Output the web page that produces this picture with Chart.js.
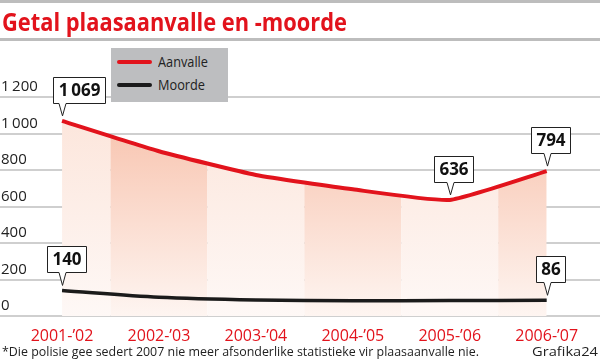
<!DOCTYPE html>
<html>
<head>
<meta charset="utf-8">
<script src="https://cdn.jsdelivr.net/npm/chart.js@4.4.1/dist/chart.umd.min.js"></script>
<style>
  body { margin: 0; background: #fff; }
  #wrap { position: relative; width: 600px; height: 360px; overflow: hidden; font-family: 'Open Sans', sans-serif; }
  #wrap canvas { position: absolute; left: 0; top: 0; }
  .rule { position: absolute; left: 0; width: 600px; height: 3px; background: #bdbdbd; }
  .fit { position: absolute; white-space: nowrap; transform-origin: 0 50%; }
  #title { left: 2px; top: 4px; font-weight: 700; font-size: 25px; color: #e2131c; }
  #legend { position: absolute; left: 111px; top: 48px; width: 117px; height: 54px; background: #bdbec0; }
  #legend .sw { position: absolute; left: 6px; width: 35px; height: 4px; border-radius: 2px; }
  #legend .fit { left: 47px; font-size: 15px; color: #222; }
  #note { left: 2px; top: 342px; font-size: 13px; color: #222; }
  #credit { left: 532px; top: 342px; font-size: 13px; color: #222; }
</style>
</head>
<body>
<div id="wrap">
  <canvas id="chart" width="600" height="360"></canvas>
  <div class="rule" style="top:0"></div>
  <div id="title" class="fit" data-w="345">Getal plaasaanvalle en -moorde</div>
  <div class="rule" style="top:38px"></div>
  <div id="legend">
    <div class="sw" style="top:12px;background:#e2131c"></div>
    <div class="fit" data-w="50" style="top:3px">Aanvalle</div>
    <div class="sw" style="top:35px;background:#1b1b1b"></div>
    <div class="fit" data-w="47" style="top:26px">Moorde</div>
  </div>
  <div id="note" class="fit" data-w="477">*Die polisie gee sedert 2007 nie meer afsonderlike statistieke vir plaasaanvalle nie.</div>
  <div id="credit" class="fit" data-w="66">Grafika24</div>
</div>
<script>
// data
const categories = ['2001-’02', '2002-’03', '2003-’04', '2004-’05', '2005-’06', '2006-’07'];
const aanvalle = [1069, 903, 773, 694, 636, 794];
const moorde = [140, 103, 88, 83, 85, 86];
const yTicks = [0, 200, 400, 600, 800, 1000, 1200];
const aanvalleLabels = [0, 4, 5]; // which points get a callout
const moordeLabels = [0, 5];

// squeeze html text to the width it has in the original
document.querySelectorAll('.fit').forEach(el => {
    const w = el.getBoundingClientRect().width;
    el.style.transform = 'scaleX(' + (el.dataset.w / w) + ')';
});

const fmt = v => v >= 1000 ? Math.floor(v / 1000) + '\u2009' + String(v % 1000).padStart(3, '0') : String(v);

// shaded bands under the red line
const bands = {
    id: 'bands',
    beforeDatasetsDraw(chart) {
        const {ctx, chartArea, scales: {x}} = chart;
        const meta = chart.getDatasetMeta(0);
        const line = meta.dataset;
        const pts = meta.data;
        const first = pts[0].x, last = pts[pts.length - 1].x;
        line.updateControlPoints(chartArea, 'x');
        ctx.save();
        ctx.beginPath();
        line.path(ctx);
        ctx.lineTo(last, chartArea.bottom);
        ctx.lineTo(first, chartArea.bottom);
        ctx.closePath();
        ctx.clip();
        categories.forEach((c, i) => {
            const l = Math.max(x.getPixelForValue(i - 0.5), first);
            const r = Math.min(x.getPixelForValue(i + 0.5), last);
            const g = ctx.createLinearGradient(0, chartArea.top, 0, chartArea.bottom);
            if (i % 2) {
                g.addColorStop(0, '#f7bea7');
                g.addColorStop(1, '#fef5f1');
            } else {
                g.addColorStop(0, '#fce4d9');
                g.addColorStop(1, '#fef8f6');
            }
            ctx.fillStyle = g;
            ctx.fillRect(l, chartArea.top - 40, r - l, chartArea.bottom - chartArea.top + 40);
        });
        ctx.restore();
    }
};

// white value boxes with a pointer
const callouts = {
    id: 'callouts',
    afterDatasetsDraw(chart) {
        const ctx = chart.ctx;
        ctx.save();
        ctx.font = 'bold 17px "Open Sans"';
        ctx.textAlign = 'center';
        ctx.textBaseline = 'middle';
        [[0, aanvalleLabels], [1, moordeLabels]].forEach(([ds, idx]) => {
            const meta = chart.getDatasetMeta(ds);
            idx.forEach(i => {
                const p = meta.data[i];
                const text = fmt(chart.data.datasets[ds].data[i].y);
                const w = Math.round(ctx.measureText(text).width + 10);
                const h = 26;
                const shift = (ds === 0 && i === 0) ? 17 : 4;
                const bx = Math.round(p.x - w / 2 + shift) + 0.5;
                const by = Math.round(p.y - 18 - h) + 0.5;
                const px = Math.round(p.x) + 0.5;
                ctx.beginPath();
                ctx.moveTo(bx, by);
                ctx.lineTo(bx + w, by);
                ctx.lineTo(bx + w, by + h);
                ctx.lineTo(px + 3.5, by + h);
                ctx.lineTo(px, p.y - 5);
                ctx.lineTo(px - 3.5, by + h);
                ctx.lineTo(bx, by + h);
                ctx.closePath();
                ctx.fillStyle = '#fff';
                ctx.fill();
                ctx.strokeStyle = '#222';
                ctx.lineWidth = 1;
                ctx.stroke();
                ctx.fillStyle = '#111';
                ctx.fillText(text, bx + w / 2, by + h / 2 + 1);
            });
        });
        ctx.restore();
    }
};

new Chart(document.getElementById('chart'), {
    type: 'line',
    data: {
        datasets: [
            {
                label: 'Aanvalle',
                data: aanvalle.map((v, i) => ({x: i, y: v})),
                borderColor: '#e2131c',
                borderWidth: 4,
                tension: 0.15,
                pointRadius: 0,
                fill: false
            },
            {
                label: 'Moorde',
                data: moorde.map((v, i) => ({x: i, y: v})),
                borderColor: '#1b1b1b',
                borderWidth: 3.5,
                tension: 0.3,
                pointRadius: 0,
                fill: false
            }
        ]
    },
    options: {
        responsive: false,
        animation: false,
        devicePixelRatio: 1,
        layout: {padding: {top: 97, bottom: 14, left: 0, right: 0}},
        plugins: {legend: {display: false}, tooltip: {enabled: false}},
        scales: {
            x: {
                type: 'linear',
                min: -0.64,
                max: 5.55,
                afterBuildTicks: s => { s.ticks = categories.map((c, i) => ({value: i})); },
                afterFit: s => { s.height = 30; },
                ticks: {
                    callback: v => categories[v],
                    color: '#e2131c',
                    font: {family: 'Open Sans', size: 16},
                    padding: 3,
                    maxRotation: 0,
                    autoSkip: false
                },
                grid: {display: false},
                border: {display: false}
            },
            y: {
                min: 0,
                max: 1200,
                afterBuildTicks: s => { s.ticks = yTicks.map(v => ({value: v})); },
                afterFit: s => { s.width = 0; },
                ticks: {
                    mirror: true,
                    padding: 1,
                    labelOffset: -10,
                    color: '#222',
                    font: {family: 'Open Sans', size: 15},
                    callback: v => fmt(v)
                },
                grid: {color: '#cfcfcf', lineWidth: 2, drawTicks: false},
                border: {display: false}
            }
        }
    },
    plugins: [bands, callouts]
});
</script>
</body>
</html>
